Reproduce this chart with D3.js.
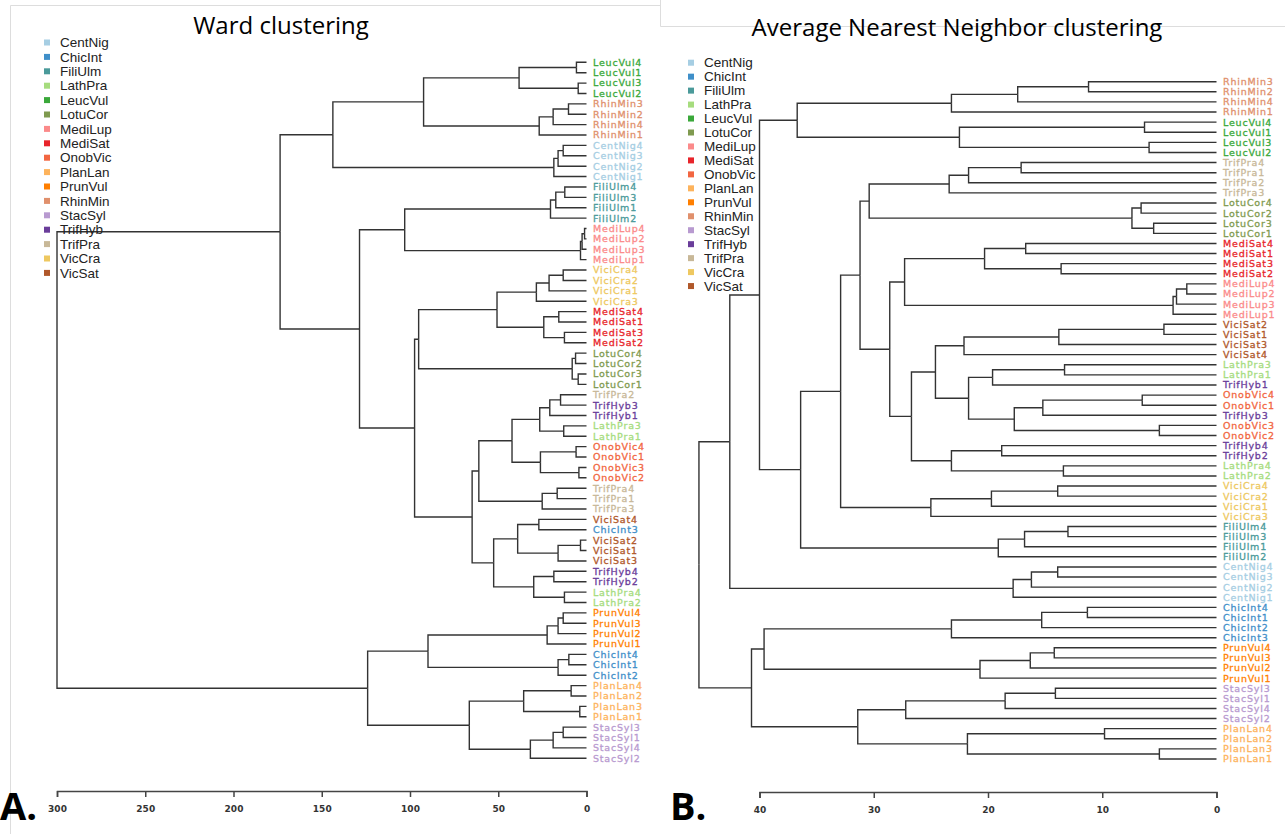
<!DOCTYPE html>
<html>
<head>
<meta charset="utf-8">
<script src="https://cdn.jsdelivr.net/npm/d3@7"></script>
<style>
	body { margin: 0; background: #fff; }
	svg { display: block; }
	.link { fill: none; stroke: #333; stroke-width: 1.4px; }
	.leafLabel { font-family: "DejaVu Sans", sans-serif; font-size: 9.5px; letter-spacing: 0.8px; stroke-width: 0.3px; }
	.legendLabel { font-family: "Liberation Sans", Arial, sans-serif; font-size: 13.5px; fill: #222; }
	.title { font-family: "Open Sans", sans-serif; font-size: 24px; fill: #000; }
	.panelTag { font-family: "Open Sans", sans-serif; font-size: 38px; font-weight: bold; fill: #000; }
	.axis text { font-family: "DejaVu Sans", sans-serif; font-size: 9px; font-weight: bold; fill: #333; }
	.axis path, .axis line { stroke: #444; stroke-width: 1.5px; }
	.frame { fill: none; stroke: #ddd; stroke-width: 1px; }
</style>
</head>
<body>
<svg width="1285" height="834"></svg>
<script>
// species groups: prefix used in leaf names, name shown in legend, colour
var leafPrefixes = ["CentNig", "ChicInt", "FiliUlm", "LathPra", "LeucVul", "LotuCor", "MediLup", "MediSat", "OnobVic",
	"PlanLan", "PrunVul", "RhinMin", "StacSyl", "TrifHyb", "TrifPra", "ViciCra", "ViciSat"];
var legendNames = ["CentNig", "ChicInt", "FiliUlm", "LathPra", "LeucVul", "LotuCor", "MediLup", "MediSat", "OnobVic",
	"PlanLan", "PrunVul", "RhinMin", "StacSyl", "TrifHyb", "TrifPra", "VicCra", "VicSat"];
var speciesColors = ["#a6cee3", "#3f8fc9", "#4a9a9a", "#a6dc7e", "#3aa83a", "#7f9a4f", "#fb8a8a", "#e8242a", "#f26641",
	"#fdb35c", "#ff7f00", "#e0906c", "#b89ad0", "#6a3d9a", "#c8b898", "#eec860", "#b0582a"];

// trees: internal node = [height, left, right], leaf = name
// --- Ward clustering ---
var wardLeucVul = [38.2, [5.7, "LeucVul4", "LeucVul1"], [4.7, "LeucVul3", "LeucVul2"]];
var wardRhinMin = [26.8, [18.9, [10.2, "RhinMin3", "RhinMin2"], "RhinMin4"], "RhinMin1"];
var wardCentNig = [18.5, [16.1, [13.2, "CentNig4", "CentNig3"], "CentNig2"], "CentNig1"];
var wardFiliUlm = [20.4, [17.4, [12.3, "FiliUlm4", "FiliUlm3"], "FiliUlm1"], "FiliUlm2"];
var wardMediLup = [3.4, [2.5, [1.1, "MediLup4", "MediLup2"], "MediLup3"], "MediLup1"];
var wardViciCra = [28.4, [21.2, [13.2, "ViciCra4", "ViciCra2"], "ViciCra1"], "ViciCra3"];
var wardMediSat = [24.2, [15.7, "MediSat4", "MediSat1"], [12.5, "MediSat3", "MediSat2"]];
var wardLotuCor = [8.1, [6.2, "LotuCor4", "LotuCor2"], [4.7, "LotuCor3", "LotuCor1"]];
var wardHybOnob = [42.2, [26.5, [20.8, [14.7, "TrifPra2", "TrifHyb3"], "TrifHyb1"], [12.9, "LathPra3", "LathPra1"]],
	[26.1, [5.9, "OnobVic4", "OnobVic1"], [4.3, "OnobVic3", "OnobVic2"]]];
var wardTrifPra = [25.1, [16.6, "TrifPra4", "TrifPra1"], "TrifPra3"];
var wardViciSat = [39.0, [27.0, "ViciSat4", "ChicInt3"], [16.1, [3.4, "ViciSat2", "ViciSat1"], "ViciSat3"]];
var wardHybLath = [29.9, [18.5, "TrifHyb4", "TrifHyb2"], [12.5, "LathPra4", "LathPra2"]];
var wardPrunVul = [22.3, [16.1, [13.2, "PrunVul4", "PrunVul3"], "PrunVul2"], "PrunVul1"];
var wardChicInt = [16.1, [10.0, "ChicInt4", "ChicInt1"], "ChicInt2"];
var wardPlanLan = [35.6, [8.7, "PlanLan4", "PlanLan2"], [3.8, "PlanLan3", "PlanLan1"]];
var wardStacSyl = [31.8, [18.9, [13.2, "StacSyl3", "StacSyl1"], "StacSyl4"], "StacSyl2"];
var wardTicks = [300, 250, 200, 150, 100, 50, 0];

var wardTree = [300,
	[173.6,
		[143.7, [92.3, wardLeucVul, wardRhinMin], wardCentNig],
		[128.6,
			[103.0, wardFiliUlm, wardMediLup],
			[97.4,
				[95.1, [50.7, wardViciCra, wardMediSat], wardLotuCor],
				[64.8, [61.0, wardHybOnob, wardTrifPra], [52.6, wardViciSat, wardHybLath]]]]],
	[124.0, [89.8, wardPrunVul, wardChicInt], [66.4, wardPlanLan, wardStacSyl]]];

// --- Average nearest neighbour clustering ---
var avgRhinMin = [23.2, [17.4, [11.2, "RhinMin3", "RhinMin2"], "RhinMin4"], "RhinMin1"];
var avgLeucVul = [22.5, [6.3, "LeucVul4", "LeucVul1"], [5.9, "LeucVul3", "LeucVul2"]];
var avgTrifPra = [23.4, [21.7, [17.1, "TrifPra4", "TrifPra1"], "TrifPra2"], "TrifPra3"];
var avgLotuCor = [7.4, [6.6, "LotuCor4", "LotuCor2"], [5.5, "LotuCor3", "LotuCor1"]];
var avgMediSat = [20.3, [16.7, "MediSat4", "MediSat1"], [13.6, "MediSat3", "MediSat2"]];
var avgMediLup = [3.8, [3.5, [2.6, "MediLup4", "MediLup2"], "MediLup3"], "MediLup1"];
var avgViciSat = [22.1, [13.8, [4.6, "ViciSat2", "ViciSat1"], "ViciSat3"], "ViciSat4"];
var avgLathOnob = [21.7, [19.6, [13.3, "LathPra3", "LathPra1"], "TrifHyb1"],
	[17.7, [15.2, [6.5, "OnobVic4", "OnobVic1"], "TrifHyb3"], [5.0, "OnobVic3", "OnobVic2"]]];
var avgHybLath = [23.2, [18.8, "TrifHyb4", "TrifHyb2"], [13.4, "LathPra4", "LathPra2"]];
var avgViciCra = [25.0, [19.7, [13.9, "ViciCra4", "ViciCra2"], "ViciCra1"], "ViciCra3"];
var avgFiliUlm = [19.1, [16.8, [13.0, "FiliUlm4", "FiliUlm3"], "FiliUlm1"], "FiliUlm2"];
var avgCentNig = [17.8, [16.2, [13.9, "CentNig4", "CentNig3"], "CentNig2"], "CentNig1"];
var avgChicInt = [23.2, [15.3, [11.3, "ChicInt4", "ChicInt1"], "ChicInt2"], "ChicInt3"];
var avgPrunVul = [20.7, [16.3, [14.2, "PrunVul4", "PrunVul3"], "PrunVul2"], "PrunVul1"];
var avgStacSyl = [27.2, [18.5, [14.1, "StacSyl3", "StacSyl1"], "StacSyl4"], "StacSyl2"];
var avgPlanLan = [21.8, [9.8, "PlanLan4", "PlanLan2"], [5.0, "PlanLan3", "PlanLan1"]];
var avgTicks = [40, 30, 20, 10, 0];

var avgTree = [45.3,
	[42.6,
		[40.0,
			[36.7, avgRhinMin, avgLeucVul],
			[36.4,
				[32.9,
					[31.2,
						[30.4, avgTrifPra, avgLotuCor],
						[28.6,
							[27.3, avgMediSat, avgMediLup],
							[26.7, [24.6, avgViciSat, avgLathOnob], avgHybLath]]],
					avgViciCra],
				avgFiliUlm]],
		avgCentNig],
	[40.7, [39.6, avgChicInt, avgPrunVul], [31.4, avgStacSyl, avgPlanLan]]];

var svg = d3.select("svg");

var color = d3.scaleOrdinal()
	.domain(leafPrefixes)
	.range(speciesColors);

// panel frames (screenshot edges)
svg.append("path").attr("class", "frame").attr("d", "M10.5,834V5.5H660");
svg.append("path").attr("class", "frame").attr("d", "M660.5,0V26.5H1285");

var wardX = d3.scaleLinear().domain([300, 0]).range([57, 586.5]);
var avgX = d3.scaleLinear().domain([40, 0]).range([759.5, 1216.5]);

drawDendrogram(svg.append("g").attr("id", "ward"), wardTree, wardX, 62.3, 758.3, wardTicks, 791);
drawDendrogram(svg.append("g").attr("id", "avg"), avgTree, avgX, 81.7, 759, avgTicks, 792);

drawLegend(svg.append("g").attr("id", "legendWard"), 44, 42.5, 14.4);
drawLegend(svg.append("g").attr("id", "legendAvg"), 688, 62.7, 13.96);

svg.append("text").attr("class", "title")
	.attr("x", 281).attr("y", 34)
	.attr("text-anchor", "middle")
	.text("Ward clustering");

svg.append("text").attr("class", "title")
	.attr("x", 957).attr("y", 36)
	.attr("text-anchor", "middle")
	.text("Average Nearest Neighbor clustering");

svg.append("text").attr("class", "panelTag").attr("x", 0).attr("y", 820).text("A.");
svg.append("text").attr("class", "panelTag").attr("x", 670).attr("y", 820).text("B.");


function drawDendrogram(g, tree, x, yTop, yBottom, ticks, axisY){
	var root = d3.hierarchy(tree, function(d){
		return Array.isArray(d) ? d.slice(1) : null;
	});
	var leaves = root.leaves();
	var y = d3.scaleLinear().domain([0, leaves.length - 1]).range([yTop, yBottom]);

	leaves.forEach(function(d, i){ d.y = y(i); });

	// internal nodes sit halfway between their children
	root.eachAfter(function(d){
		d.h = d.children ? d.data[0] : 0;
		if(d.children){
			d.y = d3.mean(d.children, function(c){ return c.y; });
		}
		d.x = x(d.h);
	});

	g.selectAll(".link").data(root.links()).enter()
		.append("path")
		.attr("class", "link")
		.attr("d", function(l){
			return "M" + l.source.x + "," + l.source.y + "V" + l.target.y + "H" + l.target.x;
		});

	g.selectAll(".leafLabel").data(leaves).enter()
		.append("text")
		.attr("class", "leafLabel")
		.attr("x", function(d){ return d.x + 6.5; })
		.attr("y", function(d){ return d.y; })
		.attr("dy", "0.36em")
		.attr("fill", function(d){ return color(d.data.slice(0, 7)); })
		.attr("stroke", function(d){ return color(d.data.slice(0, 7)); })
		.text(function(d){ return d.data; });

	g.append("g")
		.attr("class", "axis")
		.attr("transform", "translate(0," + axisY + ")")
		.call(d3.axisBottom(x).tickValues(ticks).tickSize(6).tickPadding(9).tickFormat(d3.format("d")));
}

function drawLegend(g, x0, y0, step){
	var item = g.selectAll("g").data(legendNames).enter()
		.append("g")
		.attr("transform", function(d, i){ return "translate(" + x0 + "," + (y0 + i * step) + ")"; });

	item.append("rect")
		.attr("x", 0).attr("y", -3)
		.attr("width", 6).attr("height", 6)
		.attr("fill", function(d, i){ return speciesColors[i]; });

	item.append("text")
		.attr("class", "legendLabel")
		.attr("x", 16)
		.attr("dy", "0.35em")
		.text(function(d){ return d; });
}
</script>
</body>
</html>
